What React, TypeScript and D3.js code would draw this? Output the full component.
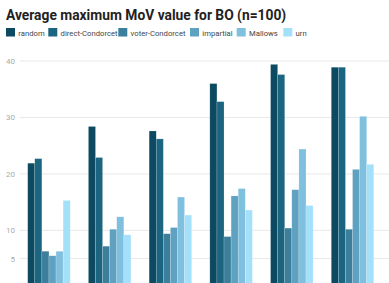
import React from 'react'
import * as d3 from 'd3'

// chart data
const groups = ['g1', 'g2', 'g3', 'g4', 'g5', 'g6']
const seriesNames = ['random', 'direct-Condorcet', 'voter-Condorcet', 'impartial', 'Mallows', 'urn']
const seriesColors = ['#0b4a60', '#1b6580', '#3c7f9c', '#5fa1c0', '#80c0df', '#a5e0fb']

const random = [21.9, 28.4, 27.6, 36.0, 39.4, 38.9]
const directCondorcet = [22.7, 22.9, 26.2, 32.8, 37.6, 38.9]
const voterCondorcet = [6.3, 7.2, 9.4, 8.9, 10.4, 10.2]
const impartial = [5.5, 10.2, 10.5, 16.1, 17.2, 20.8]
const mallows = [6.3, 12.4, 15.9, 17.4, 24.4, 30.2]
const urn = [15.3, 9.2, 12.7, 13.6, 14.4, 21.7]

const yTicks = [5, 10, 20, 30, 40]

const values = [random, directCondorcet, voterCondorcet, impartial, mallows, urn]

const App = () => {
  const width = 389
  const height = 283

  const x0 = d3.scaleBand().domain(groups).range([18.6, 382.9]).paddingInner(0.3).paddingOuter(0.15)
  const x1 = d3.scaleBand().domain(seriesNames).range([0, x0.bandwidth()])
  const y = d3.scaleLinear().domain([0, 40]).range([286.8, 61])

  // legend positions follow text widths
  const legendX = [6, 48.3, 118.3, 190, 236.7, 283.3]

  return (
    <svg width={width} height={height}
      style={{ position: 'absolute', left: 0, top: 0, fontFamily: 'Roboto, sans-serif' }}>
      <rect width={width} height={height} fill="#fff" />
      <text x={6} y={20} fontSize={13.8} fontWeight={700} fill="#222">
        Average maximum MoV value for BO (n=100)
      </text>

      {seriesNames.map((s, i) => (
        <g key={s} transform={`translate(${legendX[i]},28)`}>
          <rect width={9} height={8.5} fill={seriesColors[i]} />
          <text x={12.3} y={7.8} fontSize={7.7} fill="#444">{s}</text>
        </g>
      ))}

      {yTicks.map(t => (
        <g key={t}>
          <line x1={20} x2={width} y1={y(t)} y2={y(t)} stroke="#e8e8e8" strokeWidth={1} />
          <text x={15} y={y(t) + 3} fontSize={8} textAnchor="end" fill="#aaa">{t}</text>
        </g>
      ))}

      {groups.map((g, gi) => (
        <g key={g} transform={`translate(${x0(g)},0)`}>
          {seriesNames.map((s, si) => (
            <rect key={s}
              x={x1(s)}
              y={y(values[si][gi])}
              width={x1.bandwidth()}
              height={y(0) - y(values[si][gi])}
              fill={seriesColors[si]}
              stroke="#fff"
              strokeOpacity={0.35}
              strokeWidth={0.5} />
          ))}
        </g>
      ))}
    </svg>
  )
}

export default App
